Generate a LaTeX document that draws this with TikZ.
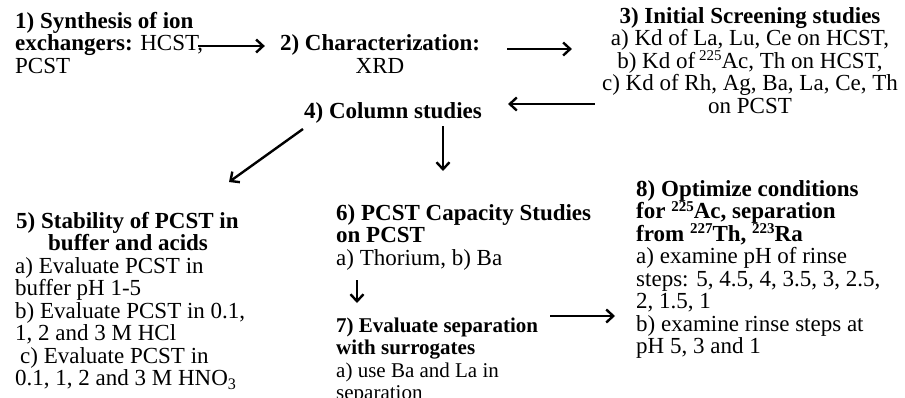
\documentclass[tikz,border=0pt]{standalone}
\usepackage{fontspec}
\setmainfont{Liberation Serif}
\usetikzlibrary{arrows.meta}
\newcommand{\iso}[1]{\raisebox{7.5pt}{\fontsize{15}{15}\selectfont #1}}

\begin{document}
\begin{tikzpicture}[x=1pt,y=-1pt,>={Straight Barb[length=7pt,width=13pt]},
  txt/.style={inner sep=0pt,font={\fontsize{23}{22.5}\selectfont\lineskiplimit=-100pt}},
  small/.style={font={\fontsize{21}{22.5}\selectfont\lineskiplimit=-100pt}},
  flow/.style={->,line width=2.4pt}]
 \useasboundingbox (0,0) rectangle (905,397);
 % steps (placed at the baseline of their last line)
 \node[txt,anchor=base west,align=left] (syn) at (15,73)
 {\textbf{1) Synthesis of ion}\\\textbf{exchangers:} HCST,\\PCST};
 \node[txt,anchor=base,align=center] (char) at (380,73)
 {\textbf{2) Characterization:}\\XRD};
 \node[txt,anchor=base,align=center] (scr) at (750,113)
 {\textbf{3) Initial Screening studies}\\a) Kd of La, Lu, Ce on HCST,\\
 b) Kd of\,\iso{225}Ac, Th on HCST,\\c) Kd of Rh, Ag, Ba, La, Ce, Th\\on PCST};
 \node[txt,anchor=base] (col) at (393,118) {\textbf{4) Column studies}};
 \node[txt,anchor=base west,align=left] (stab) at (15,385.5)
 {\hspace*{1pt}\textbf{5) Stability of PCST in}\\\hspace*{33pt}\textbf{buffer and acids}\\
 a) Evaluate PCST in\\buffer pH 1-5\\b) Evaluate PCST in 0.1,\\1, 2 and 3 M HCl\\
 \hspace*{5pt}c) Evaluate PCST in\\0.1, 1, 2 and 3 M HNO\textsubscript{3}};
 \node[txt,anchor=base west,align=left] (cap) at (336,265)
 {\textbf{6) PCST Capacity Studies}\\\textbf{on PCST}\\a) Thorium, b) Ba};
 \node[txt,small,anchor=base west,align=left] (sur) at (336,399.5)
 {\textbf{7) Evaluate separation}\\\textbf{with surrogates}\\a) use Ba and La in\\separation};
 \node[txt,anchor=base west,align=left] (opt) at (636,353.5)
 {\textbf{8) Optimize conditions}\\\textbf{for \iso{225}Ac, separation}\\
 \textbf{from \iso{227}Th, \iso{223}Ra}\\a) examine pH of rinse\\
 steps: 5, 4.5, 4, 3.5, 3, 2.5,\\2, 1.5, 1\\b) examine rinse steps at\\pH 5, 3 and 1};
 % arrows
 \draw[flow] ([xshift=-5pt,yshift=27pt]syn.base east) -- ([xshift=-15pt,yshift=27pt]char.base west);
 \draw[flow] ([xshift=27pt,yshift=24pt]char.base east) -- ([xshift=-30pt,yshift=64pt]scr.base west);
 \draw[flow] ([xshift=-7pt,yshift=9pt]scr.base west) -- ([xshift=26pt,yshift=14pt]col.base east);
 \draw[flow] ([xshift=-1pt,yshift=-11pt]col.base west) -- ([xshift=214pt,yshift=203.5pt]stab.base west);
 \draw[flow] ([xshift=50pt,yshift=-8pt]col.base) -- ([xshift=107pt,yshift=94pt]cap.base west);
 \draw[flow] ([xshift=21pt,yshift=-15pt]cap.base west) -- ([xshift=21pt,yshift=-38pt]cap.base west);
 \draw[flow] ([xshift=12pt,yshift=83.5pt]sur.base east) -- ([xshift=-21pt,yshift=37.5pt]opt.base west);
\end{tikzpicture}
\end{document}
